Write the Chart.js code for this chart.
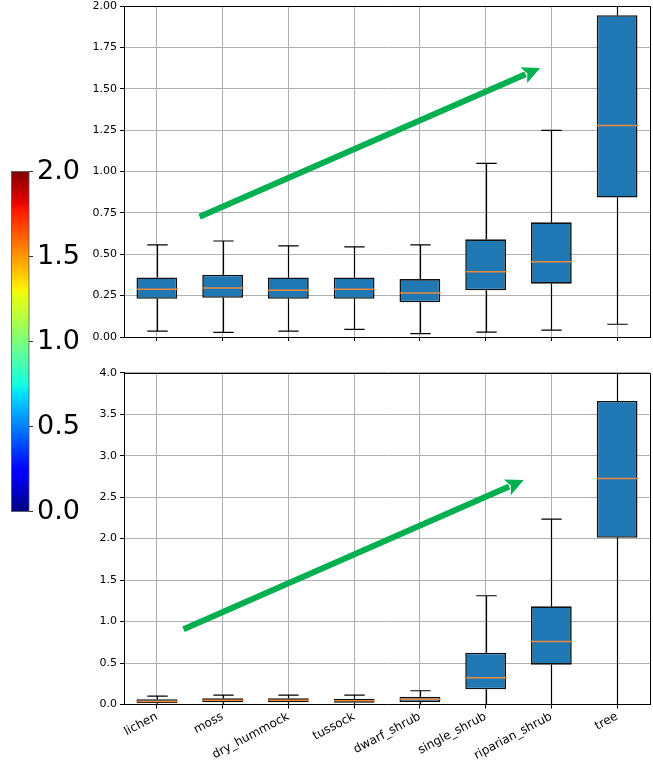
<!DOCTYPE html>
<html>
<head>
<meta charset="utf-8">
<script src="https://cdn.jsdelivr.net/npm/chart.js@4/dist/chart.umd.min.js"></script>
<style>
  html, body { margin: 0; padding: 0; background: #fff; }
  #wrap { position: relative; width: 653px; height: 774px; overflow: hidden; }
  canvas { position: absolute; }
</style>
</head>
<body>
<div id="wrap">
  <canvas id="topPanel" width="653" height="356" style="left:0;top:-4px"></canvas>
  <canvas id="bottomPanel" width="653" height="422" style="left:0;top:352px"></canvas>
  <canvas id="colorbar" width="100" height="410" style="left:0;top:140px;z-index:2"></canvas>
</div>
<script>
// Land-cover classes
const categories = ['lichen', 'moss', 'dry_hummock', 'tussock', 'dwarf_shrub', 'single_shrub', 'riparian_shrub', 'tree'];

// Upper panel: box statistics per class
const topWhiskerLow  = [0.036, 0.028, 0.036, 0.046, 0.020, 0.030, 0.042, 0.077];
const topQ1          = [0.231, 0.237, 0.231, 0.231, 0.210, 0.282, 0.322, 0.843];
const topMedian      = [0.288, 0.296, 0.282, 0.288, 0.266, 0.394, 0.455, 1.278];
const topQ3          = [0.360, 0.376, 0.360, 0.360, 0.350, 0.590, 0.693, 1.944];
const topWhiskerHigh = [0.557, 0.580, 0.551, 0.545, 0.557, 1.049, 1.248, 2.900];

// Lower panel: box statistics per class
const botWhiskerLow  = [0.000, 0.000, 0.000, 0.000, 0.000, 0.000, 0.000, 0.000];
const botQ1          = [0.014, 0.027, 0.027, 0.022, 0.030, 0.183, 0.480, 2.010];
const botMedian      = [0.035, 0.050, 0.050, 0.045, 0.063, 0.323, 0.761, 2.725];
const botQ3          = [0.063, 0.075, 0.075, 0.070, 0.094, 0.624, 1.183, 3.660];
const botWhiskerHigh = [0.102, 0.114, 0.114, 0.114, 0.166, 1.311, 2.235, 5.200];

// Axis ranges and tick steps
const topTicks = { min: 0, max: 2, step: 0.25, decimals: 2 };
const botTicks = { min: 0, max: 4, step: 0.5, decimals: 1 };
const colorbarTicks = { min: 0, max: 2, step: 0.5, decimals: 1 };

// Trend arrows, in (class index, value) coordinates
const topArrow = { from: [0.65, 0.726], to: [5.83, 1.626] };
const botArrow = { from: [0.405, 0.906], to: [5.58, 2.705] };

const FONT = 'DejaVu Sans';
const BOX_BLUE = '#1f77b4';
const MEDIAN_ORANGE = '#f0883a';
const GRID = '#b0b0b0';
const ARROW_GREEN = '#00b050';

function drawArrow(ctx, x0, y0, x1, y1) {
  const dx = x1 - x0, dy = y1 - y0;
  const len = Math.hypot(dx, dy);
  const ux = dx / len, uy = dy / len;
  const headLen = 18, headHalf = 8.5, shaft = 6;
  const bx = x1 - ux * headLen, by = y1 - uy * headLen;
  ctx.save();
  ctx.strokeStyle = ARROW_GREEN;
  ctx.fillStyle = ARROW_GREEN;
  ctx.lineWidth = shaft;
  ctx.lineCap = 'butt';
  ctx.beginPath();
  ctx.moveTo(x0, y0);
  ctx.lineTo(bx + ux * 2, by + uy * 2);
  ctx.stroke();
  ctx.beginPath();
  ctx.moveTo(x1, y1);
  ctx.lineTo(bx - uy * headHalf, by + ux * headHalf);
  ctx.lineTo(bx + ux * 4, by + uy * 4);
  ctx.lineTo(bx + uy * headHalf, by - ux * headHalf);
  ctx.closePath();
  ctx.fill();
  ctx.restore();
}

// Whiskers, caps, medians, frame and arrow drawn through the chart's own scales
function boxPlotPlugin(stats, arrow) {
  return {
    id: 'boxPlot',
    afterDatasetsDraw(chart) {
      const { ctx, chartArea: a, scales: { x, y } } = chart;
      const bars = chart.getDatasetMeta(0).data;
      ctx.save();
      ctx.beginPath();
      ctx.rect(a.left, a.top, a.right - a.left, a.bottom - a.top);
      ctx.clip();
      categories.forEach((_, i) => {
        const cx = Math.round(x.getPixelForValue(i)) + 0.5;
        const w = bars[i].width;
        const yLow = y.getPixelForValue(stats.low[i]);
        const yQ1 = y.getPixelForValue(stats.q1[i]);
        const yMed = y.getPixelForValue(stats.med[i]);
        const yQ3 = y.getPixelForValue(stats.q3[i]);
        const yHigh = y.getPixelForValue(stats.high[i]);
        ctx.strokeStyle = '#000';
        ctx.lineWidth = 1.2;
        ctx.beginPath();
        ctx.moveTo(cx, yQ1); ctx.lineTo(cx, yLow);
        ctx.moveTo(cx, yQ3); ctx.lineTo(cx, yHigh);
        ctx.moveTo(cx - w / 4, yLow); ctx.lineTo(cx + w / 4, yLow);
        ctx.moveTo(cx - w / 4, yHigh); ctx.lineTo(cx + w / 4, yHigh);
        ctx.stroke();
        ctx.strokeStyle = MEDIAN_ORANGE;
        ctx.lineWidth = 1.5;
        ctx.beginPath();
        ctx.moveTo(cx - w / 2, yMed); ctx.lineTo(cx + w / 2, yMed);
        ctx.stroke();
      });
      ctx.restore();
      // top and right spines
      ctx.save();
      ctx.strokeStyle = '#000';
      ctx.lineWidth = 1;
      ctx.beginPath();
      ctx.moveTo(Math.round(a.left), Math.round(a.top) + 0.5);
      ctx.lineTo(Math.round(a.right) + 0.5, Math.round(a.top) + 0.5);
      ctx.lineTo(Math.round(a.right) + 0.5, Math.round(a.bottom));
      ctx.stroke();
      ctx.restore();
    },
    afterDraw(chart) {
      const { ctx, scales: { x, y } } = chart;
      drawArrow(ctx,
        x.getPixelForValue(arrow.from[0]), y.getPixelForValue(arrow.from[1]),
        x.getPixelForValue(arrow.to[0]), y.getPixelForValue(arrow.to[1]));
    }
  };
}

function panelConfig(stats, ticks, arrow, layout) {
  return {
    type: 'bar',
    data: {
      labels: categories,
      datasets: [{
        data: categories.map((_, i) => [stats.q1[i], stats.q3[i]]),
        backgroundColor: BOX_BLUE,
        borderColor: '#111',
        borderWidth: 1.6,
        borderSkipped: false,
        barPercentage: 0.62,
        categoryPercentage: 1
      }]
    },
    options: {
      responsive: false,
      animation: false,
      devicePixelRatio: 1,
      layout: { padding: { top: layout.padTop, right: 3, left: 0, bottom: 0 } },
      plugins: { legend: { display: false }, tooltip: { enabled: false } },
      scales: {
        x: {
          grid: { offset: false, color: GRID, lineWidth: 1, tickColor: '#000', tickLength: 4 },
          border: { color: '#000', width: 1 },
          ticks: {
            display: layout.showLabels,
            autoSkip: false,
            minRotation: 28,
            maxRotation: 28,
            padding: 1,
            color: '#000',
            font: { family: FONT, size: 12 }
          },
          afterFit: s => { s.height = layout.xHeight; }
        },
        y: {
          min: ticks.min,
          max: ticks.max,
          grid: { color: GRID, lineWidth: 1, tickColor: '#000', tickLength: 4 },
          border: { color: '#000', width: 1 },
          ticks: {
            stepSize: ticks.step,
            padding: 3,
            color: '#000',
            font: { family: FONT, size: 11 },
            callback: v => Number(v).toFixed(ticks.decimals)
          },
          afterFit: s => { s.width = 124; }
        }
      }
    },
    plugins: [boxPlotPlugin(stats, arrow)]
  };
}

new Chart(document.getElementById('topPanel'), panelConfig(
  { low: topWhiskerLow, q1: topQ1, med: topMedian, q3: topQ3, high: topWhiskerHigh },
  topTicks, topArrow,
  { padTop: 10, xHeight: 15, showLabels: false }
));

new Chart(document.getElementById('bottomPanel'), panelConfig(
  { low: botWhiskerLow, q1: botQ1, med: botMedian, q3: botQ3, high: botWhiskerHigh },
  botTicks, botArrow,
  { padTop: 20.7, xHeight: 69.5, showLabels: true }
));

// Jet colour map, piecewise linear
function jet(t) {
  const seg = (pts) => {
    for (let k = 1; k < pts.length; k++) {
      if (t <= pts[k][0]) {
        const [t0, v0] = pts[k - 1], [t1, v1] = pts[k];
        return v0 + (v1 - v0) * (t - t0) / (t1 - t0);
      }
    }
    return pts[pts.length - 1][1];
  };
  const r = seg([[0, 0], [0.35, 0], [0.66, 1], [0.89, 1], [1, 0.5]]);
  const g = seg([[0, 0], [0.125, 0], [0.375, 1], [0.64, 1], [0.91, 0], [1, 0]]);
  const b = seg([[0, 0.5], [0.11, 1], [0.34, 1], [0.65, 0], [1, 0]]);
  return `rgb(${Math.round(r * 255)},${Math.round(g * 255)},${Math.round(b * 255)})`;
}

const colorbarPlugin = {
  id: 'jetBar',
  beforeDatasetsDraw(chart) {
    const { ctx, chartArea: a } = chart;
    const grad = ctx.createLinearGradient(0, a.bottom, 0, a.top);
    for (let k = 0; k <= 64; k++) grad.addColorStop(k / 64, jet(k / 64));
    ctx.save();
    ctx.fillStyle = grad;
    ctx.fillRect(a.left, a.top, a.right - a.left, a.bottom - a.top);
    ctx.strokeStyle = '#555';
    ctx.lineWidth = 0.8;
    ctx.strokeRect(a.left, a.top, a.right - a.left, a.bottom - a.top);
    ctx.restore();
  }
};

new Chart(document.getElementById('colorbar'), {
  type: 'bar',
  data: { labels: [''], datasets: [] },
  options: {
    responsive: false,
    animation: false,
    devicePixelRatio: 1,
    layout: { padding: { top: 31.5, left: 11.5, right: 0, bottom: 38.5 } },
    plugins: { legend: { display: false }, tooltip: { enabled: false } },
    scales: {
      x: { display: false },
      y: {
        position: 'right',
        min: colorbarTicks.min,
        max: colorbarTicks.max,
        grid: { drawOnChartArea: false, tickColor: '#333', tickLength: 4 },
        border: { display: false },
        ticks: {
          stepSize: colorbarTicks.step,
          padding: 4,
          color: '#000',
          font: { family: FONT, size: 27 },
          callback: v => Number(v).toFixed(colorbarTicks.decimals)
        },
        afterFit: s => { s.width = 71; }
      }
    }
  },
  plugins: [colorbarPlugin]
});
</script>
</body>
</html>
